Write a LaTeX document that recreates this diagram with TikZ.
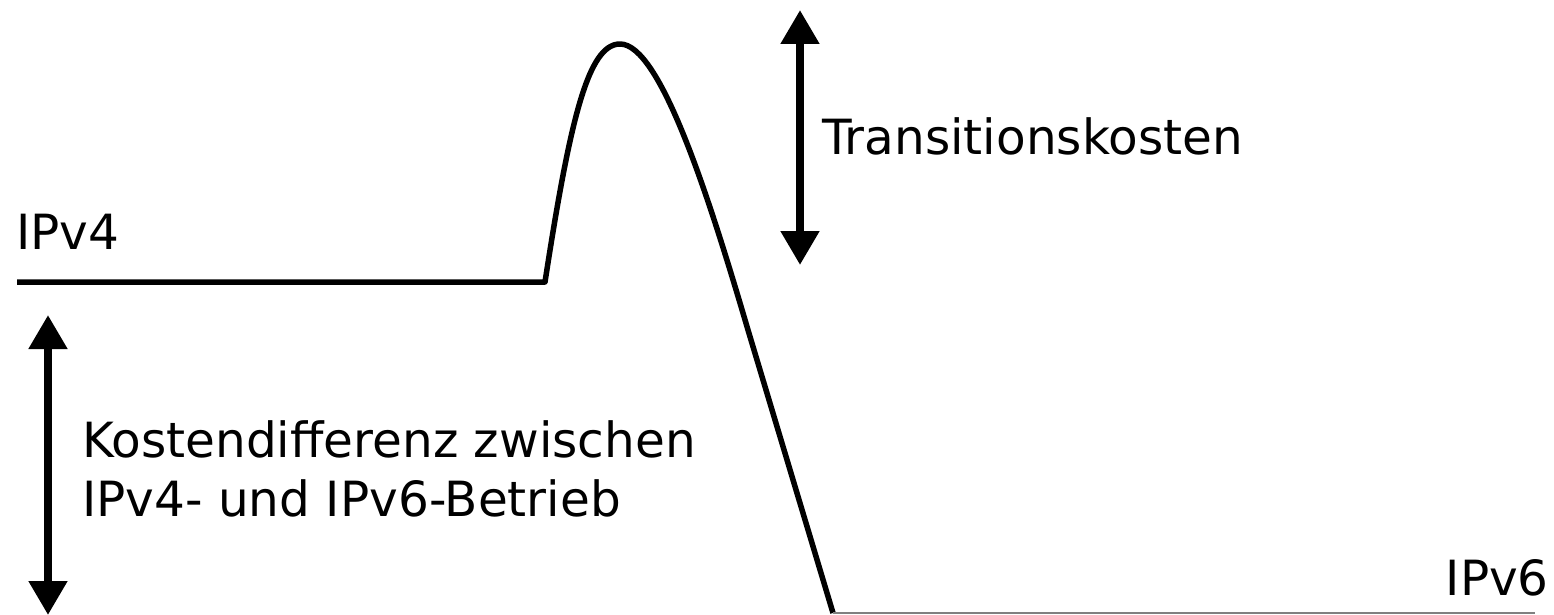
\documentclass[tikz,border=0pt]{standalone}
\usepackage{fontspec}
\setmainfont{DejaVu Sans}
\usetikzlibrary{arrows.meta}
\begin{document}
\begin{tikzpicture}[x=1pt,y=-1pt,
  curve/.style={line width=5.5pt,line join=round},
  dbl/.style={line width=8pt,{Triangle[width=37pt,length=34pt]}-{Triangle[width=37pt,length=34pt]}},
  lbl/.style={font=\fontsize{48.5}{62}\selectfont,inner sep=0pt}]
\useasboundingbox (0,0) rectangle (1554,615);
\coordinate (l0) at (17,282);
\coordinate (l1) at (545,282);
\coordinate (pk) at (620,44);
\coordinate (m1) at (748,330);
\coordinate (r0) at (833,613);
\coordinate (r1) at (1535,613);
\draw[curve] (l0) -- (l1) .. controls (570,120) and (588,44) .. (pk)
  .. controls (660,44) and (708,194) .. (m1) -- (r0);
\draw[gray,line width=2pt] (r0) -- (r1);
\coordinate (ta) at (800,10);
\coordinate (tb) at (800,265);
\draw[dbl] (ta) -- (tb);
\coordinate (la) at (48,315);
\coordinate (lb) at (48,615);
\draw[dbl] (la) -- (lb);
\node[lbl,anchor=base west] (ipv4) at (16,249) {IPv4};
\node[lbl,anchor=base west] (trans) at (822,154) {Transitionskosten};
\node[lbl,anchor=base west] (diff1) at (82,457) {Kostendifferenz zwischen};
\node[lbl,anchor=base west] (diff2) at (82,516) {IPv4- und IPv6-Betrieb};
\node[lbl,anchor=base east] (ipv6) at (1549,595) {IPv6};
\end{tikzpicture}
\end{document}
